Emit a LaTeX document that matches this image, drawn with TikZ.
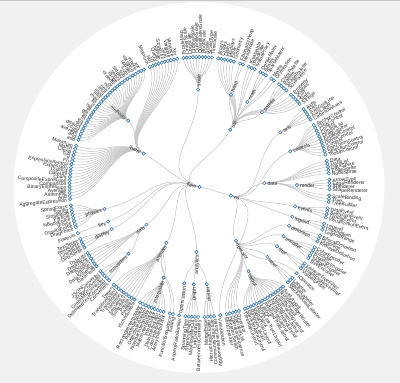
\documentclass[tikz,border=0pt]{standalone}
\usepackage{fontspec}
\setmainfont{Liberation Sans}
\definecolor{steel}{HTML}{4682B4}
\definecolor{linkc}{HTML}{C4C4C4}
\definecolor{txt}{HTML}{2A2A2A}
\definecolor{bgc}{HTML}{F1F1F1}
\definecolor{topc}{HTML}{C6C6C6}
\tikzset{
  leafdot/.style={circle, draw=steel, fill=white, line width=0.65pt, inner sep=0pt, minimum size=3.3pt},
  lbl/.style={font=\fontsize{5}{5}\selectfont, text=txt, inner sep=0pt},
  lnk/.style={draw=linkc, line width=0.5pt},
}
\newcommand\pass{1}
\newcommand\setpolar[2]{%
  \pgfmathsetmacro\myphi{-82.2-1.40078*(#1)}%
  \pgfmathsetmacro\myr{130*(1-(#2)/4)}%
}
\newcommand\putlabel[4]{% p, r, text, name
  \pgfmathtruncatemacro\flip{(#1)<128.5}%
  \pgfmathsetmacro\rlab{#2+2.9}%
  \ifnum\flip=1
    \pgfmathsetmacro\rot{\myphi+180}%
    \node[lbl, anchor=mid east, rotate=\rot] (#4) at (\myphi:\rlab) {#3};%
  \else
    \node[lbl, anchor=mid west, rotate=\myphi] (#4) at (\myphi:\rlab) {#3};%
  \fi
}
\newcommand\edgeto[2]{% child, parent
  \pgfmathsetmacro\rmid{(\csname r@#1\endcsname+\csname r@#2\endcsname)/2}%
  \edef\phic{\csname phi@#1\endcsname}%
  \edef\phip{\csname phi@#2\endcsname}%
  \draw[lnk] (#1) .. controls (\phic:\rmid) and (\phip:\rmid) .. (#2);
}
\newcommand\storepos[1]{%
  \expandafter\xdef\csname phi@#1\endcsname{\myphi}%
  \expandafter\xdef\csname r@#1\endcsname{\myr}%
}
\newcommand\rootnode[3]{% name, p, label
  \setpolar{#2}{4}%
  \ifnum\pass=1 \storepos{N#1}\coordinate (N#1) at (0,0);\fi
  \ifnum\pass=3
    \node[leafdot] (DN#1) at (N#1) {};
    \putlabel{#2}{0}{#3}{TN#1}%
  \fi
}
\newcommand\inode[5]{% name, p, h, label, parent
  \setpolar{#2}{#3}%
  \ifnum\pass=1 \storepos{N#1}\coordinate (N#1) at (\myphi:\myr);\fi
  \ifnum\pass=2 \edgeto{N#1}{N#5}\fi
  \ifnum\pass=3
    \node[leafdot] (DN#1) at (N#1) {};
    \putlabel{#2}{\myr}{#4}{TN#1}%
  \fi
}
\newcommand\leafrun[3]{% parent, start p, list
  \foreach \lname [count=\i from 0] in {#3} {%
    \pgfmathtruncatemacro\pp{#2+\i}%
    \setpolar{\pp}{0}%
    \ifnum\pass=1 \storepos{L\pp}\coordinate (L\pp) at (\myphi:\myr);\fi
    \ifnum\pass=2 \edgeto{L\pp}{N#1}\fi
    \ifnum\pass=3
      \node[leafdot] (DL\pp) at (L\pp) {};
      \putlabel{\pp}{\myr}{\lname}{TL\pp}%
    \fi
  }%
}
\newcommand\treedata{%
\rootnode{flare}{83.5379}{flare}
\inode{analytics}{7.5}{2}{analytics}{flare}
\inode{cluster}{2.5}{1}{cluster}{analytics}
\inode{graph}{8}{1}{graph}{analytics}
\inode{optimization}{12}{1}{optimization}{analytics}
\inode{animate}{27.41667}{2}{animate}{flare}
\inode{interpolate}{21}{1}{interpolate}{animate}
\inode{data}{44.5714}{2}{data}{flare}
\inode{converters}{39}{1}{converters}{data}
\inode{display}{51.5}{1}{display}{flare}
\inode{flex}{55}{1}{flex}{flare}
\inode{physics}{60.5}{1}{physics}{flare}
\inode{query}{91.9483}{2}{query}{flare}
\inode{methods}{100.5}{1}{methods}{query}
\inode{scale}{133.5}{1}{scale}{flare}
\inode{util}{154.2105}{2}{util}{flare}
\inode{heap}{147.5}{1}{heap}{util}
\inode{math}{155}{1}{math}{util}
\inode{palette}{162.5}{1}{palette}{util}
\inode{vis}{209.232}{3}{vis}{flare}
\inode{axis}{174}{1}{axis}{vis}
\inode{controls}{183}{1}{controls}{vis}
\inode{visdata}{195.9444}{2}{data}{vis}
\inode{render}{197.5}{1}{render}{visdata}
\inode{events}{206.5}{1}{events}{vis}
\inode{legend}{211}{1}{legend}{vis}
\inode{operator}{238.1818}{2}{operator}{vis}
\inode{distortion}{215}{1}{distortion}{operator}
\inode{encoder}{220}{1}{encoder}{operator}
\inode{filter}{225}{1}{filter}{operator}
\inode{label}{231}{1}{label}{operator}
\inode{layout}{241}{1}{layout}{operator}
\leafrun{cluster}{1}{AgglomerativeCluster,CommunityStructure,HierarchicalCluster,MergeEdge}
\leafrun{graph}{6}{BetweennessCentrality,LinkDistance,MaxFlowMinCut,ShortestPaths,SpanningTree}
\leafrun{optimization}{12}{AspectRatioBanker}
\leafrun{animate}{14}{Easing,FunctionSequence}
\leafrun{interpolate}{17}{ArrayInterpolator,ColorInterpolator,DateInterpolator,Interpolator,MatrixInterpolator,NumberInterpolator,ObjectInterpolator,PointInterpolator,RectangleInterpolator}
\leafrun{animate}{27}{ISchedulable,Parallel,Pause,Scheduler,Sequence,Transition,Transitioner,TransitionEvent,Tween}
\leafrun{converters}{37}{Converters,DelimitedTextConverter,GraphMLConverter,IDataConverter,JSONConverter}
\leafrun{data}{43}{DataField,DataSchema,DataSet,DataSource,DataTable,DataUtil}
\leafrun{display}{50}{DirtySprite,LineSprite,RectSprite,TextSprite}
\leafrun{flex}{55}{FlareVis}
\leafrun{physics}{57}{DragForce,GravityForce,IForce,NBodyForce,Particle,Simulation,Spring,SpringForce}
\leafrun{query}{66}{AggregateExpression,And,Arithmetic,Average,BinaryExpression,Comparison,CompositeExpression,Count,DateUtil,Distinct,Expression,ExpressionIterator,Fn,If,IsA,Literal,Match,Maximum}
\leafrun{methods}{85}{add,and,average,count,distinct,div,eq,fn,gt,gte,iff,isa,lt,lte,max,min,mod,mul,neq,not,or,orderby,range,select,stddev,sub,sum,update,variance,where,xor,\_}
\leafrun{query}{118}{Minimum,Not,Or,Query,Range,StringUtil,Sum,Variable,Variance,Xor}
\leafrun{scale}{129}{IScaleMap,LinearScale,LogScale,OrdinalScale,QuantileScale,QuantitativeScale,RootScale,Scale,ScaleType,TimeScale}
\leafrun{util}{140}{Arrays,Colors,Dates,Displays,Filter,Geometry}
\leafrun{heap}{147}{FibonacciHeap,HeapNode}
\leafrun{util}{150}{IEvaluable,IPredicate,IValueProxy}
\leafrun{math}{154}{DenseMatrix,IMatrix,SparseMatrix}
\leafrun{util}{158}{Maths,Orientation}
\leafrun{palette}{161}{ColorPalette,Palette,ShapePalette,SizePalette}
\leafrun{util}{166}{Property,Shapes,Sort,Stats,Strings}
\leafrun{axis}{172}{Axes,Axis,AxisGridLine,AxisLabel,CartesianAxes}
\leafrun{controls}{178}{AnchorControl,ClickControl,Control,ControlList,DragControl,ExpandControl,HoverControl,IControl,PanZoomControl,SelectionControl,TooltipControl}
\leafrun{visdata}{190}{Data,DataList,DataSprite,EdgeSprite,NodeSprite}
\leafrun{render}{196}{ArrowType,EdgeRenderer,IRenderer,ShapeRenderer}
\leafrun{visdata}{201}{ScaleBinding,Tree,TreeBuilder}
\leafrun{events}{205}{DataEvent,SelectionEvent,TooltipEvent,VisualizationEvent}
\leafrun{legend}{210}{Legend,LegendItem,LegendRange}
\leafrun{distortion}{214}{BifocalDistortion,Distortion,FisheyeDistortion}
\leafrun{encoder}{218}{ColorEncoder,Encoder,PropertyEncoder,ShapeEncoder,SizeEncoder}
\leafrun{filter}{224}{FisheyeTreeFilter,GraphDistanceFilter,VisibilityFilter}
\leafrun{operator}{228}{IOperator}
\leafrun{label}{230}{Labeler,RadialLabeler,StackedAreaLabeler}
\leafrun{layout}{234}{AxisLayout,BundledEdgeRouter,CircleLayout,CirclePackingLayout,DendrogramLayout,ForceDirectedLayout,IcicleTreeLayout,IndentedTreeLayout,Layout,NodeLinkTreeLayout,PieLayout,RadialTreeLayout,RandomLayout,StackedAreaLayout,TreeMapLayout}
\leafrun{operator}{250}{Operator,OperatorList,OperatorSequence,OperatorSwitch,SortOperator}
\leafrun{vis}{256}{Visualization}
}
\begin{document}
\begin{tikzpicture}[x=1pt,y=1pt]
\useasboundingbox (0,0) rectangle (400,383);
\fill[bgc] (0,0) rectangle (400,383);
\fill[white] (199,195.5) circle (185.5pt);
\fill[topc] (0,381.6) rectangle (400,383);
\begin{scope}[shift={(199.5,196)}]
\renewcommand\pass{1}\treedata
\renewcommand\pass{2}\treedata
\renewcommand\pass{3}\treedata
\end{scope}
\end{tikzpicture}
\end{document}
